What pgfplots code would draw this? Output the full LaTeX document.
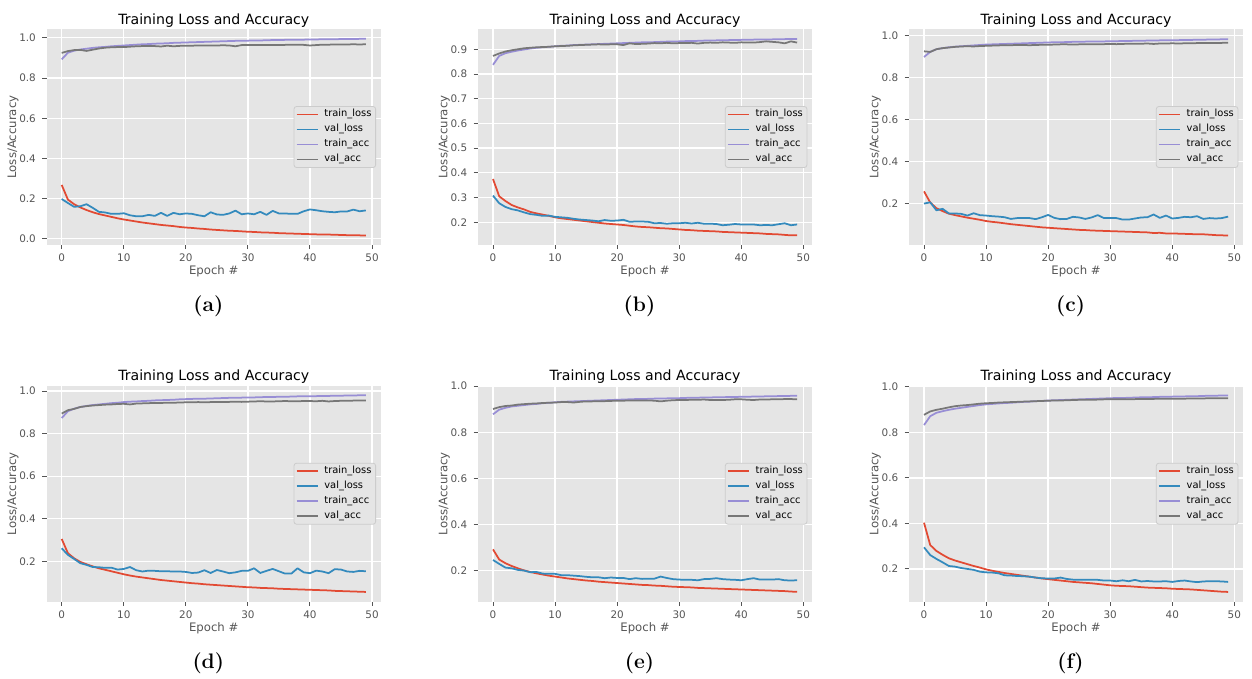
\documentclass[border=0pt]{standalone}
\usepackage{fontspec}
\usepackage{pgfplots}
\usepackage{pgfplotstable}
\pgfplotsset{compat=1.18}
\newfontfamily\djv{DejaVu Sans}
\definecolor{bgc}{HTML}{E5E5E5}
\definecolor{tkc}{HTML}{555555}
\definecolor{cr}{HTML}{E24A33}
\definecolor{cb}{HTML}{348ABD}
\definecolor{cp}{HTML}{988ED5}
\definecolor{cg}{HTML}{777777}
\definecolor{lgc}{HTML}{CCCCCC}

\pgfplotstableread{
ep tl vl ta va
0 .268 .198 .893 .925
1 .195 .178 .926 .934
2 .172 .159 .936 .939
3 .156 .162 .942 .940
4 .143 .172 .946 .935
5 .132 .154 .950 .941
6 .123 .134 .953 .947
7 .116 .131 .955 .951
8 .109 .124 .958 .953
9 .102 .124 .960 .954
10 .096 .127 .962 .954
11 .091 .117 .964 .956
12 .086 .112 .966 .958
13 .081 .112 .968 .959
14 .077 .119 .969 .959
15 .073 .114 .971 .959
16 .069 .129 .972 .957
17 .066 .114 .973 .961
18 .063 .129 .975 .958
19 .059 .122 .976 .960
20 .056 .126 .977 .961
21 .054 .124 .978 .961
22 .051 .117 .979 .962
23 .049 .112 .980 .962
24 .046 .132 .981 .962
25 .044 .121 .982 .962
26 .042 .119 .983 .963
27 .040 .126 .984 .962
28 .039 .140 .985 .958
29 .037 .122 .985 .964
30 .035 .126 .986 .964
31 .034 .122 .987 .964
32 .032 .134 .987 .964
33 .031 .119 .988 .965
34 .030 .139 .989 .965
35 .028 .126 .989 .965
36 .027 .126 .990 .965
37 .026 .124 .990 .966
38 .025 .124 .991 .966
39 .024 .137 .991 .965
40 .023 .146 .992 .962
41 .022 .142 .992 .964
42 .021 .137 .993 .966
43 .021 .134 .993 .966
44 .020 .132 .993 .967
45 .019 .136 .994 .967
46 .018 .136 .994 .967
47 .018 .145 .994 .968
48 .017 .137 .995 .967
49 .016 .141 .995 .968
}\TA

\pgfplotstableread{
ep tl vl ta va
0 .375 .308 .837 .873
1 .305 .277 .873 .883
2 .286 .262 .884 .891
3 .270 .253 .890 .896
4 .260 .248 .895 .900
5 .252 .240 .899 .904
6 .242 .233 .903 .906
7 .236 .230 .906 .908
8 .231 .226 .908 .909
9 .226 .227 .910 .910
10 .220 .222 .912 .912
11 .216 .220 .914 .913
12 .213 .218 .915 .914
13 .210 .214 .917 .916
14 .207 .211 .918 .917
15 .204 .209 .919 .918
16 .201 .207 .920 .919
17 .198 .204 .921 .920
18 .195 .209 .922 .919
19 .193 .206 .923 .920
20 .191 .207 .924 .920
21 .189 .210 .925 .917
22 .186 .202 .926 .924
23 .183 .203 .927 .921
24 .181 .203 .928 .922
25 .180 .202 .928 .923
26 .178 .196 .929 .925
27 .176 .197 .930 .924
28 .175 .194 .931 .926
29 .173 .196 .931 .924
30 .171 .196 .932 .925
31 .169 .198 .933 .925
32 .168 .195 .933 .926
33 .166 .198 .934 .923
34 .165 .194 .935 .926
35 .164 .194 .935 .927
36 .163 .193 .936 .926
37 .161 .188 .936 .928
38 .160 .190 .937 .927
39 .159 .193 .937 .926
40 .158 .191 .938 .928
41 .157 .191 .938 .927
42 .156 .191 .939 .927
43 .155 .188 .939 .929
44 .153 .189 .940 .932
45 .152 .188 .940 .930
46 .151 .192 .941 .928
47 .149 .196 .941 .924
48 .147 .188 .942 .932
49 .147 .191 .942 .927
}\TB

\pgfplotstableread{
ep tl vl ta va
0 .258 .200 .897 .924
1 .205 .206 .921 .921
2 .178 .168 .934 .934
3 .164 .175 .939 .939
4 .152 .153 .943 .942
5 .145 .153 .946 .945
6 .139 .151 .948 .947
7 .133 .143 .950 .948
8 .128 .154 .952 .947
9 .123 .145 .954 .949
10 .117 .143 .956 .950
11 .113 .140 .957 .951
12 .110 .138 .958 .952
13 .106 .135 .959 .953
14 .102 .127 .960 .953
15 .099 .131 .961 .954
16 .096 .131 .962 .954
17 .093 .131 .963 .953
18 .090 .126 .964 .954
19 .087 .135 .965 .955
20 .085 .146 .966 .955
21 .083 .132 .967 .956
22 .081 .126 .967 .957
23 .079 .127 .968 .957
24 .077 .137 .969 .956
25 .075 .134 .969 .957
26 .074 .127 .970 .957
27 .072 .134 .970 .958
28 .071 .145 .971 .958
29 .070 .131 .971 .958
30 .069 .131 .972 .959
31 .068 .131 .972 .958
32 .067 .124 .973 .959
33 .066 .124 .973 .960
34 .065 .129 .974 .960
35 .064 .134 .974 .960
36 .063 .135 .975 .961
37 .060 .148 .975 .959
38 .061 .132 .976 .961
39 .058 .143 .976 .961
40 .058 .129 .977 .962
41 .057 .132 .977 .961
42 .056 .137 .978 .962
43 .055 .135 .978 .962
44 .054 .140 .979 .963
45 .054 .127 .979 .963
46 .052 .131 .980 .963
47 .050 .129 .980 .964
48 .049 .131 .981 .964
49 .048 .138 .981 .965
}\TC

\pgfplotstableread{
ep tl vl ta va
0 .305 .261 .873 .894
1 .238 .230 .905 .910
2 .214 .211 .917 .916
3 .197 .191 .925 .925
4 .186 .183 .930 .929
5 .176 .173 .934 .932
6 .167 .172 .937 .934
7 .160 .169 .940 .936
8 .153 .170 .943 .937
9 .146 .161 .945 .939
10 .139 .164 .948 .940
11 .133 .173 .950 .937
12 .128 .158 .951 .941
13 .124 .152 .953 .942
14 .120 .156 .954 .943
15 .116 .155 .956 .944
16 .112 .153 .957 .944
17 .109 .153 .958 .945
18 .106 .152 .959 .945
19 .103 .152 .961 .946
20 .100 .150 .962 .947
21 .097 .145 .963 .947
22 .095 .147 .964 .948
23 .092 .158 .964 .947
24 .090 .145 .965 .948
25 .088 .159 .966 .949
26 .086 .152 .967 .948
27 .084 .144 .968 .949
28 .082 .148 .968 .950
29 .080 .155 .969 .949
30 .078 .155 .970 .950
31 .077 .167 .970 .951
32 .075 .145 .971 .952
33 .074 .155 .972 .951
34 .073 .164 .972 .951
35 .071 .153 .973 .952
36 .070 .142 .973 .953
37 .069 .142 .974 .952
38 .068 .167 .975 .952
39 .067 .148 .975 .953
40 .066 .144 .976 .953
41 .065 .156 .976 .952
42 .064 .152 .977 .954
43 .063 .144 .977 .951
44 .061 .163 .978 .953
45 .060 .161 .978 .954
46 .059 .152 .979 .954
47 .058 .150 .979 .955
48 .057 .155 .980 .955
49 .056 .153 .980 .955
}\TD

\pgfplotstableread{
ep tl vl ta va
0 .292 .246 .878 .901
1 .248 .229 .898 .909
2 .232 .213 .906 .914
3 .220 .210 .912 .916
4 .210 .203 .915 .920
5 .201 .200 .918 .922
6 .194 .193 .921 .924
7 .188 .194 .923 .925
8 .183 .187 .926 .927
9 .178 .186 .928 .928
10 .174 .186 .930 .929
11 .170 .180 .932 .931
12 .166 .180 .933 .931
13 .163 .178 .934 .929
14 .160 .176 .935 .932
15 .157 .173 .936 .934
16 .155 .171 .937 .934
17 .152 .171 .938 .935
18 .150 .167 .939 .935
19 .148 .170 .940 .936
20 .146 .168 .941 .937
21 .144 .168 .942 .937
22 .142 .163 .943 .938
23 .140 .167 .944 .938
24 .138 .164 .944 .938
25 .137 .165 .945 .938
26 .135 .165 .946 .937
27 .134 .174 .946 .934
28 .132 .168 .947 .937
29 .130 .163 .948 .939
30 .129 .161 .948 .940
31 .128 .160 .949 .940
32 .127 .160 .950 .941
33 .125 .158 .950 .941
34 .124 .163 .951 .942
35 .123 .164 .951 .940
36 .122 .167 .952 .940
37 .121 .163 .952 .940
38 .120 .161 .953 .941
39 .119 .160 .953 .943
40 .118 .158 .954 .943
41 .117 .163 .954 .941
42 .116 .167 .955 .940
43 .115 .161 .955 .942
44 .114 .161 .956 .942
45 .113 .161 .956 .943
46 .112 .163 .957 .943
47 .111 .158 .957 .944
48 .109 .157 .958 .944
49 .108 .158 .958 .943
}\TE

\pgfplotstableread{
ep tl vl ta va
0 .403 .295 .832 .877
1 .305 .261 .871 .892
2 .279 .244 .886 .899
3 .262 .229 .893 .904
4 .247 .213 .899 .910
5 .237 .210 .904 .915
6 .229 .204 .908 .918
7 .221 .200 .912 .920
8 .213 .196 .916 .923
9 .206 .188 .920 .926
10 .198 .185 .923 .928
11 .192 .184 .925 .929
12 .187 .181 .927 .931
13 .182 .172 .929 .932
14 .178 .171 .930 .933
15 .174 .169 .932 .934
16 .170 .168 .934 .935
17 .166 .166 .935 .936
18 .162 .162 .937 .937
19 .158 .159 .938 .938
20 .155 .158 .940 .939
21 .152 .158 .941 .940
22 .149 .162 .942 .940
23 .146 .156 .943 .941
24 .143 .153 .944 .942
25 .141 .152 .945 .943
26 .139 .152 .946 .943
27 .137 .152 .947 .943
28 .134 .152 .948 .944
29 .131 .149 .949 .945
30 .128 .149 .950 .945
31 .126 .146 .951 .946
32 .125 .150 .951 .946
33 .124 .146 .952 .946
34 .122 .152 .953 .946
35 .120 .145 .954 .947
36 .118 .147 .954 .947
37 .117 .145 .955 .947
38 .116 .145 .956 .948
39 .115 .146 .956 .948
40 .113 .143 .957 .948
41 .112 .147 .958 .948
42 .111 .149 .958 .948
43 .110 .145 .959 .949
44 .108 .142 .959 .949
45 .106 .145 .960 .949
46 .104 .146 .961 .950
47 .102 .146 .961 .950
48 .100 .145 .962 .950
49 .099 .143 .962 .950
}\TF

\pgfplotsset{
  ggax/.style={
    scale only axis, width=334.5pt, height=216pt,
    anchor=south west,
    xmin=-2.45, xmax=51.45, xtick={0,10,20,30,40,50},
    axis background/.style={fill=bgc},
    axis line style={draw=none},
    grid=major, major grid style={white, line width=1.3pt},
    tick align=outside, tick pos=left,
    major tick length=4.1pt,
    tick style={tkc, line width=0.9pt},
    tick label style={font=\djv\fontsize{10.4}{12.5}\selectfont, text=tkc},
    /pgf/number format/assume math mode=true,
    yticklabel style={/pgf/number format/.cd, fixed, fixed zerofill, precision=1, /tikz/.cd, xshift=-3pt},
    xticklabel style={yshift=-1pt},
    xlabel={Epoch \#}, ylabel={Loss/Accuracy},
    label style={font=\djv\fontsize{11.7}{14}\selectfont, text=tkc},
    xlabel style={at={(axis description cs:0.5,0)}, anchor=base, yshift=-29.6pt},
    ylabel style={at={(axis description cs:-0.091,0.5)}, anchor=base},
    title={Training Loss and Accuracy},
    title style={font=\djv\fontsize{14.1}{17}\selectfont, text=black, at={(axis description cs:0.5,1)}, anchor=base, yshift=-1.1pt},
    legend cell align=left,
    legend image code/.code={\draw[##1, line width=1.75pt] (0pt,0pt) -- (21pt,0pt);},
    legend style={at={(axis description cs:1,0.5)}, anchor=east, xshift=-5pt,
      fill=bgc, draw=lgc, line width=0.8pt, rounded corners=2.5pt,
      font=\djv\fontsize{9.9}{12}\selectfont, text=black,
      inner xsep=1.6pt, inner ysep=0.5pt, row sep=0pt,
      nodes={inner sep=2.5pt, text height=7.4pt, text depth=2.6pt},
      /tikz/every odd column/.append style={column sep=3.5pt}},
  }
}

\newcommand{\fourplots}[1]{%
  \addplot[cr, line width=1.75pt, line join=round] table[x=ep,y=tl]{#1}; \addlegendentry{train\_loss}
  \addplot[cb, line width=1.75pt, line join=round] table[x=ep,y=vl]{#1}; \addlegendentry{val\_loss}
  \addplot[cp, line width=1.75pt, line join=round] table[x=ep,y=ta]{#1}; \addlegendentry{train\_acc}
  \addplot[cg, line width=1.75pt, line join=round] table[x=ep,y=va]{#1}; \addlegendentry{val\_acc}
}

\begin{document}
\begin{tikzpicture}
\path[use as bounding box] (0pt,0pt) rectangle (1252pt,-678pt);

\begin{axis}[ggax, at={(46.5pt,-245pt)}, ymin=-0.031, ymax=1.044, ytick={0,0.2,0.4,0.6,0.8,1.0}]
\fourplots{\TA}
\end{axis}
\begin{axis}[ggax, at={(477.8pt,-245pt)}, ymin=0.108, ymax=0.982, ytick={0.2,0.3,0.4,0.5,0.6,0.7,0.8,0.9}]
\fourplots{\TB}
\end{axis}
\begin{axis}[ggax, at={(908.8pt,-245pt)}, ymin=0.003, ymax=1.030, ytick={0.2,0.4,0.6,0.8,1.0}]
\fourplots{\TC}
\end{axis}
\begin{axis}[ggax, at={(46.5pt,-601.7pt)}, ymin=0.010, ymax=1.025, ytick={0.2,0.4,0.6,0.8,1.0}]
\fourplots{\TD}
\end{axis}
\begin{axis}[ggax, at={(477.8pt,-601.7pt)}, ymin=0.065, ymax=1.002, ytick={0.2,0.4,0.6,0.8,1.0}]
\fourplots{\TE}
\end{axis}
\begin{axis}[ggax, at={(908.8pt,-601.7pt)}, ymin=0.056, ymax=1.005, ytick={0.2,0.4,0.6,0.8,1.0}]
\fourplots{\TF}
\end{axis}

\node[font=\fontsize{21}{25}\selectfont\bfseries] at (208.3pt,-306pt) {(a)};
\node[font=\fontsize{21}{25}\selectfont\bfseries] at (639.5pt,-306pt) {(b)};
\node[font=\fontsize{21}{25}\selectfont\bfseries] at (1070.5pt,-306pt) {(c)};
\node[font=\fontsize{21}{25}\selectfont\bfseries] at (208.3pt,-663pt) {(d)};
\node[font=\fontsize{21}{25}\selectfont\bfseries] at (639.5pt,-663pt) {(e)};
\node[font=\fontsize{21}{25}\selectfont\bfseries] at (1070.5pt,-663pt) {(f)};
\end{tikzpicture}
\end{document}
